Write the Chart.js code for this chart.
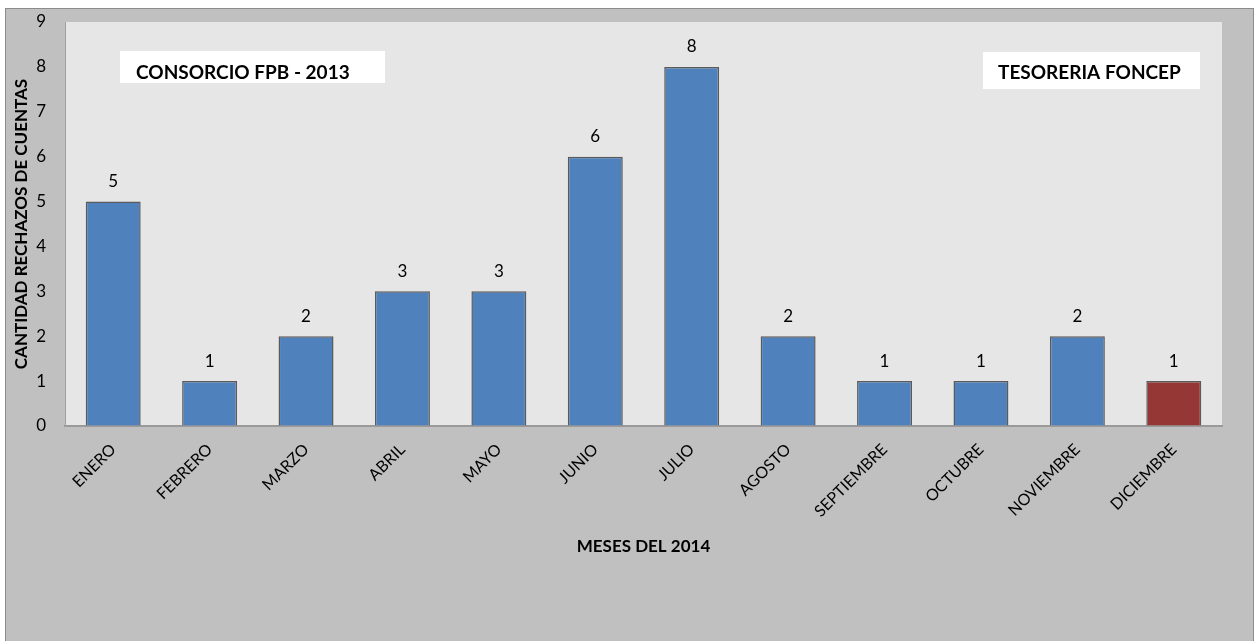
<!DOCTYPE html>
<html>
<head>
<meta charset="utf-8">
<script src="https://cdn.jsdelivr.net/npm/chart.js@4/dist/chart.umd.min.js"></script>
<style>
  html, body { margin: 0; padding: 0; background: #ffffff; }
  #wrap { position: relative; width: 1255px; height: 641px; }
  canvas { display: block; }
</style>
</head>
<body>
<div id="wrap"><canvas id="chart" width="1255" height="641"></canvas></div>
<script>
// Rechazos de cuentas por mes
const meses = ['ENERO', 'FEBRERO', 'MARZO', 'ABRIL', 'MAYO', 'JUNIO', 'JULIO',
               'AGOSTO', 'SEPTIEMBRE', 'OCTUBRE', 'NOVIEMBRE', 'DICIEMBRE'];
const rechazos = [5, 1, 2, 3, 3, 6, 8, 2, 1, 1, 2, 1];
const yTicks = [0, 1, 2, 3, 4, 5, 6, 7, 8, 9];
const rotuloIzq = 'CONSORCIO FPB - 2013';
const rotuloDer = 'TESORERIA FONCEP';

const FONT = 'Lato, "Open Sans", sans-serif';
const AZUL = '#4f81bd';
const ROJO = '#953735';
const colores = meses.map((m, i) => i === meses.length - 1 ? ROJO : AZUL);

// Fondo gris exterior, área de trazado, recuadros de texto y valores sobre las barras
const decoracion = {
  id: 'decoracion',
  beforeDraw(chart) {
    const { ctx, chartArea: a } = chart;
    ctx.save();
    ctx.fillStyle = '#c0c0c0';
    ctx.fillRect(5, 8, 1249, 633);
    ctx.strokeStyle = '#8c8c8c';
    ctx.lineWidth = 1;
    ctx.strokeRect(5.5, 8.5, 1248, 640);
    ctx.fillStyle = '#e6e6e6';
    ctx.fillRect(a.left, a.top, a.right - a.left, a.bottom - a.top);
    ctx.restore();
  },
  afterDatasetsDraw(chart) {
    const { ctx } = chart;
    ctx.save();
    // valores
    ctx.font = '17px ' + FONT;
    ctx.fillStyle = '#000000';
    ctx.textAlign = 'center';
    ctx.textBaseline = 'middle';
    const meta = chart.getDatasetMeta(0);
    meta.data.forEach((bar, i) => {
      ctx.fillText(String(rechazos[i]), bar.x, bar.y - 20);
    });
    // recuadros
    ctx.fillStyle = '#ffffff';
    ctx.fillRect(120, 51, 265, 32);
    ctx.fillRect(983, 52, 217, 37);
    ctx.font = 'bold 19px ' + FONT;
    ctx.fillStyle = '#000000';
    ctx.textAlign = 'left';
    ctx.fillText(rotuloIzq, 136, 73);
    ctx.fillText(rotuloDer, 998, 73);
    ctx.restore();
  }
};

new Chart(document.getElementById('chart'), {
  type: 'bar',
  data: {
    labels: meses,
    datasets: [{
      data: rechazos,
      backgroundColor: colores,
      borderColor: '#5a5a5a',
      borderWidth: 1.5,
      borderSkipped: 'bottom',
      categoryPercentage: 1,
      barPercentage: 0.57
    }]
  },
  options: {
    responsive: false,
    animation: false,
    devicePixelRatio: 1,
    layout: { padding: { top: 22, right: 33, bottom: 0, left: 0 } },
    plugins: {
      legend: { display: false },
      tooltip: { enabled: false }
    },
    scales: {
      x: {
        grid: { display: false, drawTicks: false },
        border: { display: true, color: '#9a9a9a', width: 2 },
        ticks: {
          color: '#000000',
          font: { family: FONT, size: 16 },
          maxRotation: 45,
          minRotation: 45,
          padding: 14,
          autoSkip: false
        },
        title: {
          display: true,
          text: 'MESES DEL 2014',
          color: '#000000',
          font: { family: FONT, size: 17, weight: 'bold' },
          padding: { top: 0, bottom: 84 }
        },
        afterFit(scale) { scale.height = 215; }
      },
      y: {
        min: 0,
        max: 9,
        grid: {
          display: true,
          drawOnChartArea: false,
          drawTicks: true,
          tickLength: 17,
          color: 'rgba(0,0,0,0)',
          tickColor: 'rgba(0,0,0,0)'
        },
        border: { display: true, color: '#a0a0a0', width: 1 },
        afterBuildTicks(scale) { scale.ticks = yTicks.map(v => ({ value: v })); },
        ticks: {
          color: '#000000',
          font: { family: FONT, size: 17 },
          padding: 2
        },
        title: {
          display: true,
          text: 'CANTIDAD RECHAZOS DE CUENTAS',
          color: '#000000',
          font: { family: FONT, size: 17, weight: 'bold' },
          padding: { top: 11, bottom: 0 }
        },
        afterFit(scale) { scale.width = 65; }
      }
    }
  },
  plugins: [decoracion]
});
</script>
</body>
</html>
